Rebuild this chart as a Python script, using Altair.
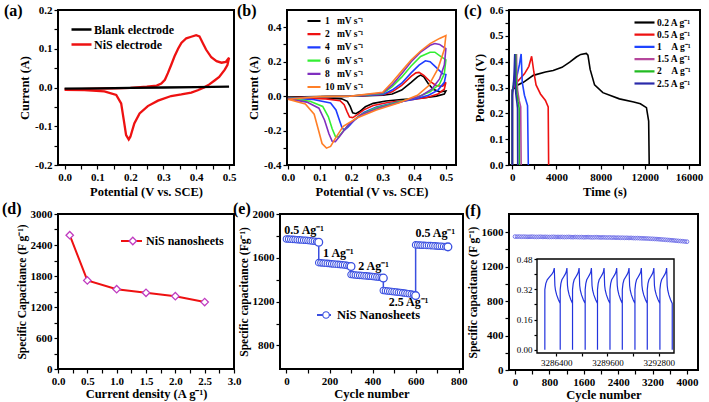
import altair as alt
import pandas as pd

FONT = "Liberation Serif"
NB = "\u00a0"

# ---------------- (a) CV: blank vs NiS electrode ----------------
a_blank_v = [0.0, 0.1, 0.2, 0.3, 0.4, 0.5]
a_blank_i = [-0.003, -0.002, -0.001, 0.0, 0.001, 0.002]
a_nis_v = [0.0, 0.05, 0.1, 0.15, 0.2, 0.25, 0.28, 0.294, 0.305, 0.314, 0.324, 0.334, 0.345, 0.355, 0.37,
           0.385, 0.40, 0.41, 0.42, 0.43, 0.446, 0.462, 0.477, 0.49, 0.5,
           0.495, 0.487, 0.47, 0.456, 0.44, 0.426, 0.405, 0.385, 0.355, 0.324, 0.284, 0.253, 0.228, 0.212,
           0.2, 0.195, 0.187, 0.18, 0.172, 0.157, 0.121, 0.06, 0.0]
a_nis_i = [-0.004, -0.004, -0.003, -0.002, -0.001, 0.002, 0.005, 0.01, 0.02, 0.037, 0.058, 0.08, 0.1, 0.115, 0.127,
           0.131, 0.135, 0.132, 0.115, 0.098, 0.078, 0.068, 0.064, 0.066, 0.077,
           0.058, 0.046, 0.027, 0.018, 0.008, 0.001, -0.007, -0.013, -0.018, -0.022, -0.034, -0.048, -0.067, -0.093,
           -0.127, -0.134, -0.123, -0.084, -0.041, -0.019, -0.01, -0.007, -0.006]
a_names = ["Blank electrode", "NiS electrode"]
a_colors = ["#000000", "#ee1111"]

# ---------------- (b) CV at scan rates ----------------
b_names = ["1" + NB * 3 + "mV s⁻¹", "2" + NB * 3 + "mV s⁻¹", "4" + NB * 3 + "mV s⁻¹",
           "6" + NB * 3 + "mV s⁻¹", "8" + NB * 3 + "mV s⁻¹", "10" + NB + "mV s⁻¹"]
b_colors = ["#000000", "#ee1111", "#1f3cff", "#33ee33", "#7f2fbf", "#ff7f27"]
b_v_1 = [0, 0.1, 0.2, 0.3, 0.33, 0.36, 0.39, 0.41, 0.42, 0.43, 0.445, 0.46, 0.48, 0.5,
         0.495, 0.47, 0.42, 0.36, 0.31, 0.27, 0.245, 0.228, 0.215, 0.205, 0.197, 0.188, 0.17, 0.12, 0.05, 0]
b_i_1 = [-0.006, -0.003, 0.0, 0.005, 0.012, 0.035, 0.08, 0.112, 0.122, 0.112, 0.07, 0.04, 0.025, 0.03,
         0.012, 0.0, -0.012, -0.02, -0.028, -0.042, -0.062, -0.088, -0.102, -0.097, -0.06, -0.03, -0.016, -0.01, -0.008, -0.006]
b_v_2 = [0, 0.1, 0.2, 0.3, 0.33, 0.36, 0.39, 0.405, 0.415, 0.43, 0.45, 0.47, 0.49, 0.5,
         0.495, 0.475, 0.44, 0.38, 0.32, 0.27, 0.24, 0.22, 0.205, 0.195, 0.187, 0.178, 0.165, 0.12, 0.05, 0]
b_i_2 = [-0.01, -0.004, 0.0, 0.008, 0.025, 0.062, 0.115, 0.135, 0.138, 0.12, 0.085, 0.06, 0.058, 0.08,
         0.04, 0.012, -0.008, -0.024, -0.036, -0.055, -0.08, -0.108, -0.125, -0.122, -0.09, -0.05, -0.027, -0.016, -0.012, -0.01]
b_v_4 = [0, 0.1, 0.2, 0.3, 0.33, 0.36, 0.39, 0.415, 0.435, 0.45, 0.47, 0.49, 0.5,
         0.495, 0.475, 0.445, 0.40, 0.34, 0.28, 0.24, 0.21, 0.19, 0.18, 0.172, 0.163, 0.152, 0.135, 0.08, 0]
b_i_4 = [-0.012, -0.004, 0.0, 0.01, 0.035, 0.075, 0.135, 0.18, 0.205, 0.2, 0.165, 0.13, 0.125,
         0.08, 0.035, 0.005, -0.018, -0.038, -0.063, -0.095, -0.14, -0.18, -0.195, -0.188, -0.14, -0.08, -0.04, -0.02, -0.012]
b_v_6 = [0, 0.1, 0.2, 0.3, 0.33, 0.36, 0.39, 0.42, 0.45, 0.465, 0.48, 0.5,
         0.495, 0.48, 0.45, 0.41, 0.35, 0.28, 0.23, 0.195, 0.172, 0.16, 0.15, 0.14, 0.128, 0.11, 0.07, 0]
b_i_6 = [-0.014, -0.004, 0.0, 0.015, 0.055, 0.11, 0.175, 0.23, 0.255, 0.255, 0.235, 0.21,
         0.13, 0.07, 0.025, -0.005, -0.035, -0.068, -0.108, -0.16, -0.21, -0.238, -0.234, -0.19, -0.12, -0.06, -0.03, -0.014]
b_v_8 = [0, 0.1, 0.2, 0.3, 0.33, 0.36, 0.39, 0.42, 0.45, 0.465, 0.48, 0.5,
         0.495, 0.48, 0.455, 0.42, 0.36, 0.29, 0.23, 0.19, 0.165, 0.15, 0.14, 0.13, 0.116, 0.098, 0.06, 0]
b_i_8 = [-0.016, -0.004, 0.0, 0.018, 0.065, 0.13, 0.2, 0.255, 0.295, 0.305, 0.3, 0.275,
         0.18, 0.1, 0.04, 0.0, -0.033, -0.067, -0.11, -0.17, -0.23, -0.265, -0.262, -0.22, -0.14, -0.07, -0.035, -0.016]
b_v_10 = [0, 0.1, 0.2, 0.3, 0.33, 0.36, 0.39, 0.42, 0.45, 0.48, 0.5,
          0.495, 0.475, 0.445, 0.41, 0.35, 0.28, 0.22, 0.175, 0.15, 0.135, 0.122, 0.108, 0.097, 0.083, 0.055, 0]
b_i_10 = [-0.018, -0.003, 0.0, 0.022, 0.08, 0.145, 0.21, 0.262, 0.305, 0.335, 0.352,
          0.27, 0.16, 0.06, 0.005, -0.04, -0.08, -0.125, -0.175, -0.245, -0.292, -0.302, -0.275, -0.2, -0.105, -0.045, -0.018]

# ---------------- (c) charge-discharge ----------------
c_names = ["0.2 A g⁻¹", "0.5 A g⁻¹", "1" + NB * 4 + "A g⁻¹", "1.5 A g⁻¹", "2" + NB * 4 + "A g⁻¹", "2.5 A g⁻¹"]
c_colors = ["#000000", "#ee1111", "#1f44ff", "#b5479c", "#22bb22", "#2a2aaa"]
c_t_02 = [0, 0, 500, 1000, 1900, 3000, 3700, 4500, 5200, 5800, 6200, 6700, 6850, 7050, 7450, 8200, 9700, 11000,
          11600, 12150, 12350, 12400]
c_u_02 = [0.0, 0.29, 0.31, 0.32, 0.347, 0.36, 0.366, 0.378, 0.398, 0.418, 0.428, 0.432, 0.425, 0.37, 0.31, 0.28,
          0.256, 0.244, 0.237, 0.222, 0.17, 0.0]
c_t_05 = [0, 0, 300, 700, 1100, 1500, 1750, 1950, 2150, 2550, 3000, 3250, 3290]
c_u_05 = [0.0, 0.29, 0.315, 0.334, 0.353, 0.382, 0.421, 0.36, 0.31, 0.275, 0.25, 0.225, 0.0]
c_t_1 = [0, 0, 200, 450, 650, 800, 830, 900, 1100, 1380, 1450]
c_u_1 = [0.0, 0.29, 0.315, 0.35, 0.39, 0.43, 0.40, 0.32, 0.27, 0.23, 0.0]
c_t_15 = [0, 0, 150, 300, 380, 410, 480, 620, 760, 800]
c_u_15 = [0.0, 0.28, 0.31, 0.36, 0.43, 0.35, 0.29, 0.25, 0.225, 0.0]
c_t_2 = [0, 0, 100, 220, 300, 330, 400, 520, 620, 640]
c_u_2 = [0.0, 0.28, 0.31, 0.36, 0.43, 0.34, 0.28, 0.245, 0.22, 0.0]
c_t_25 = [0, 0, 80, 160, 220, 250, 320, 420, 470, 490]
c_u_25 = [0.0, 0.27, 0.3, 0.35, 0.43, 0.33, 0.275, 0.24, 0.22, 0.0]

# ---------------- (d) specific capacitance vs current density ----------------
d_density = [0.2, 0.5, 1.0, 1.5, 2.0, 2.5]
d_cap = [2590, 1715, 1545, 1475, 1410, 1295]

# ---------------- (e) rate capability ----------------
e_cyc_a = [0, 10, 20, 30, 40, 50, 60, 70, 80, 90, 100, 110, 120, 130, 140, 150]
e_cap_a = [1772, 1771, 1769, 1768, 1767, 1765, 1764, 1763, 1761, 1760, 1758, 1756, 1754, 1751, 1748, 1742]
e_cyc_b = [150, 160, 170, 180, 190, 200, 210, 220, 230, 240, 250, 260, 270, 280, 290, 300]
e_cap_b = [1556, 1554, 1552, 1550, 1549, 1547, 1545, 1544, 1542, 1540, 1538, 1536, 1534, 1531, 1528, 1521]
e_cyc_c = [300, 310, 320, 330, 340, 350, 360, 370, 380, 390, 400, 410, 420, 430, 440, 450]
e_cap_c = [1447, 1445, 1443, 1441, 1440, 1438, 1436, 1435, 1433, 1431, 1429, 1427, 1425, 1423, 1420, 1415]
e_cyc_d = [450, 460, 470, 480, 490, 500, 510, 520, 530, 540, 550, 560, 570, 580, 590, 600]
e_cap_d = [1302, 1299, 1297, 1295, 1292, 1290, 1288, 1285, 1283, 1280, 1278, 1275, 1272, 1269, 1265, 1255]
e_cyc_e = [600, 610, 620, 630, 640, 650, 660, 670, 680, 690, 700, 710, 720, 730, 740, 750]
e_cap_e = [1718, 1717, 1716, 1715, 1714, 1713, 1712, 1711, 1710, 1709, 1707, 1706, 1705, 1703, 1702, 1700]
e_lab_text = ["0.5 Ag⁻¹", "1 Ag⁻¹", "2 Ag⁻¹", "2.5 Ag⁻¹", "0.5 Ag⁻¹"]
e_lab_cyc = [82, 241, 404, 567, 691]
e_lab_cap = [1856, 1646, 1523, 1198, 1825]

# ---------------- (f) cycling stability + inset ----------------
f_cycle = [0, 50, 100, 150, 200, 250, 300, 350, 400, 450, 500, 550, 600, 650, 700, 750, 800, 850, 900, 950, 1000,
           1050, 1100, 1150, 1200, 1250, 1300, 1350, 1400, 1450, 1500, 1550, 1600, 1650, 1700, 1750, 1800, 1850, 1900, 1950, 2000,
           2050, 2100, 2150, 2200, 2250, 2300, 2350, 2400, 2450, 2500, 2550, 2600, 2650, 2700, 2750, 2800, 2850, 2900, 2950, 3000,
           3050, 3100, 3150, 3200, 3250, 3300, 3350, 3400, 3450, 3500, 3550, 3600, 3650, 3700, 3750, 3800, 3850, 3900, 3950, 4000]
f_cap = [1548, 1547, 1548, 1546, 1547, 1546, 1545, 1546, 1547, 1545, 1544, 1545, 1546, 1544, 1545, 1544, 1543, 1544, 1545, 1543, 1544,
         1543, 1544, 1542, 1543, 1544, 1542, 1541, 1543, 1542, 1541, 1542, 1540, 1541, 1542, 1540, 1539, 1540, 1541, 1539, 1538,
         1539, 1538, 1537, 1538, 1536, 1537, 1535, 1536, 1534, 1535, 1533, 1534, 1532, 1533, 1531, 1530, 1531, 1529, 1528, 1527,
         1526, 1525, 1523, 1522, 1520, 1519, 1517, 1515, 1513, 1511, 1509, 1507, 1505, 1503, 1500, 1498, 1496, 1494, 1491, 1489]
ins_start = [3285690, 3286650, 3287420, 3288210, 3288980, 3289760, 3290530, 3291320, 3292090, 3292880]
ins_peak = [3286280, 3287070, 3287830, 3288600, 3289390, 3290180, 3290950, 3291720, 3292500, 3293300]
ins_end = [3286650, 3287420, 3288210, 3288980, 3289760, 3290530, 3291320, 3292090, 3292880, 3293650]
ins_charge_frac = [0.0, 0.1, 0.25, 0.5, 0.75, 0.9, 1.0]
ins_charge_u = [0.318, 0.35, 0.37, 0.385, 0.40, 0.412, 0.432]
ins_dis_frac = [0.1, 0.2, 0.4, 0.7, 1.0]
ins_dis_u = [0.34, 0.315, 0.29, 0.265, 0.245]
ins_t_range = [3285200, 3293760]
ins_u_range = [-0.017, 0.48]


# ---------------- helpers ----------------
def mk_axis(lo, hi, minor, major, fmt, title, tsize=12.5, **kw):
    n = int(round((hi - lo) / minor))
    vals = [round(lo + k * minor, 6) for k in range(n + 1)]
    expr = (f"abs(datum.value / {major} - round(datum.value / {major})) < 1e-6 "
            f"? replace(format(datum.value, '{fmt}'), '\u2212', '-') : ''")
    return alt.Axis(values=vals, labelExpr=expr, title=title, titleFontSize=tsize, **kw)


def series_df(name, xs, ys):
    assert len(xs) == len(ys), name
    return pd.DataFrame({"s": name, "x": xs, "y": ys, "k": list(range(len(xs)))})


def panel_label(txt, dx, dy):
    return alt.Chart(pd.DataFrame({"lab": [txt]})).mark_text(
        font=FONT, fontWeight="bold", fontSize=16, align="left", baseline="top", color="black"
    ).encode(text="lab:N", x=alt.value(dx), y=alt.value(dy))


LEG = dict(orient="none", title=None, labelFont=FONT, labelFontWeight="bold", labelColor="black", padding=0)

def lin(lo, hi):
    return alt.Scale(domain=[lo, hi], nice=False, zero=False)

# ---------------- panel a ----------------
a_df = pd.concat([series_df(a_names[1], a_nis_v, a_nis_i), series_df(a_names[0], a_blank_v, a_blank_i)])
pa_lines = alt.Chart(a_df).mark_line(strokeWidth=2.3).encode(
    x=alt.X("x:Q", scale=lin(-0.02, 0.515), axis=mk_axis(0, 0.5, 0.05, 0.1, ".1f", "Potential (V vs. SCE)")),
    y=alt.Y("y:Q", scale=lin(-0.2, 0.2), axis=mk_axis(-0.2, 0.2, 0.05, 0.1, ".1f", "Current (A)")),
    color=alt.Color("s:N", scale=alt.Scale(domain=a_names, range=a_colors),
                    legend=alt.Legend(legendX=12, legendY=13, symbolType="stroke", symbolSize=400,
                                      symbolStrokeWidth=2.5, labelFontSize=12, clipHeight=13, rowPadding=2,
                                      labelOffset=1, **LEG)),
    order="k:Q",
)
pa = alt.layer(pa_lines, panel_label("(a)", -54, -7)).properties(width=176, height=155)

# ---------------- panel b ----------------
b_df = pd.concat([series_df(n, v, i) for n, v, i in zip(
    b_names, [b_v_1, b_v_2, b_v_4, b_v_6, b_v_8, b_v_10], [b_i_1, b_i_2, b_i_4, b_i_6, b_i_8, b_i_10])])
pb_lines = alt.Chart(b_df).mark_line(strokeWidth=1.6).encode(
    x=alt.X("x:Q", scale=lin(-0.003, 0.532), axis=mk_axis(0, 0.5, 0.05, 0.1, ".1f", "Potential (V vs. SCE)")),
    y=alt.Y("y:Q", scale=lin(-0.4, 0.5), axis=mk_axis(-0.4, 0.4, 0.1, 0.2, ".1f", "Current (A)")),
    color=alt.Color("s:N", scale=alt.Scale(domain=b_names, range=b_colors),
                    legend=alt.Legend(legendX=19, legendY=5, symbolType="stroke", symbolSize=169,
                                      symbolStrokeWidth=2.2, labelFontSize=9.5, clipHeight=12, rowPadding=1.2,
                                      labelOffset=3, **LEG)),
    order="k:Q",
)
pb = alt.layer(pb_lines, panel_label("(b)", -50, -7)).properties(width=169, height=155)

# ---------------- panel c ----------------
c_df = pd.concat([series_df(n, t, u) for n, t, u in zip(
    c_names, [c_t_02, c_t_05, c_t_1, c_t_15, c_t_2, c_t_25], [c_u_02, c_u_05, c_u_1, c_u_15, c_u_2, c_u_25])])
pc_lines = alt.Chart(c_df).mark_line(strokeWidth=1.6).encode(
    x=alt.X("x:Q", scale=lin(-300, 17000), axis=mk_axis(0, 16000, 2000, 4000, "d", "Time (s)")),
    y=alt.Y("y:Q", scale=lin(0, 0.6), axis=mk_axis(0, 0.6, 0.05, 0.1, ".1f", "Potential (V)")),
    color=alt.Color("s:N", scale=alt.Scale(domain=c_names, range=c_colors),
                    legend=alt.Legend(legendX=124, legendY=7, symbolType="stroke", symbolSize=400,
                                      symbolStrokeWidth=2.2, labelFontSize=9.5, clipHeight=11, rowPadding=1.2,
                                      labelOffset=1, **LEG)),
    order="k:Q",
)
pc = alt.layer(pc_lines, panel_label("(c)", -45, -7)).properties(width=191, height=155)

# ---------------- panel d ----------------
D_NAME = "NiS nanosheets"
D_MARK = "#c03cc0"
d_df = pd.DataFrame({"j": d_density, "c": d_cap, "s": D_NAME, "s2": D_NAME + NB})
d_x = alt.X("j:Q", scale=lin(0, 3), axis=mk_axis(0, 3, 0.25, 0.5, ".1f", "Current density (A g⁻¹)", titlePadding=1))
d_y = alt.Y("c:Q", scale=lin(0, 3000),
            axis=mk_axis(0, 3000, 300, 600, "d", "Specific Capacitance (F g⁻¹)", tsize=11.5))
pd_line = alt.Chart(d_df).mark_line(strokeWidth=2).encode(
    x=d_x, y=d_y,
    color=alt.Color("s:N", scale=alt.Scale(domain=[D_NAME], range=["#ee1111"]),
                    legend=alt.Legend(legendX=62, legendY=19, symbolType="stroke", symbolSize=441,
                                      symbolStrokeWidth=2, labelFontSize=12, clipHeight=16, labelOffset=3, **LEG)),
)
pd_pts = alt.Chart(d_df).mark_point(shape="diamond", size=55, filled=False, fill="white", strokeWidth=1.3,
                                    opacity=1).encode(
    x=d_x, y=d_y,
    stroke=alt.Stroke("s2:N", scale=alt.Scale(domain=[D_NAME + NB], range=[D_MARK]),
                      legend=alt.Legend(legendX=68.8, legendY=19, symbolType="diamond", symbolSize=55,
                                        symbolFillColor="white", symbolStrokeWidth=1.3, labelFontSize=12,
                                        clipHeight=16, labelExpr="''", **LEG)),
)
pdd = alt.layer(pd_line, pd_pts, panel_label("(d)", -56, -13)).properties(width=176, height=155)

# ---------------- panel e ----------------
E_NAME = "NiS Nanosheets"
e_parts = []
for cyc, cap in [(e_cyc_a, e_cap_a), (e_cyc_b, e_cap_b), (e_cyc_c, e_cap_c), (e_cyc_d, e_cap_d), (e_cyc_e, e_cap_e)]:
    assert len(cyc) == len(cap)
    e_parts.append(pd.DataFrame({"n": cyc, "c": cap, "end": [False] * (len(cyc) - 1) + [True]}))
e_df = pd.concat(e_parts, ignore_index=True)
e_df["k"] = list(range(len(e_df)))
e_df["s"] = E_NAME
e_df["s2"] = E_NAME + NB
e_x = alt.X("n:Q", scale=lin(-30, 820), axis=mk_axis(0, 800, 100, 200, "d", "Cycle number", titlePadding=1))
e_y = alt.Y("c:Q", scale=lin(585, 2000),
            axis=mk_axis(800, 2000, 200, 400, "d", "Specific capacitance (Fg⁻¹)", tsize=11.5))
E_BLUE = "#3a4fe0"
pe_line = alt.Chart(e_df).mark_line(strokeWidth=1.5).encode(
    x=e_x, y=e_y, order="k:Q",
    color=alt.Color("s:N", scale=alt.Scale(domain=[E_NAME], range=[E_BLUE]),
                    legend=alt.Legend(legendX=36, legendY=93, symbolType="stroke", symbolSize=196,
                                      symbolStrokeWidth=2, labelFontSize=12.5, clipHeight=16, labelOffset=5, **LEG)),
)
pe_pts = alt.Chart(e_df).mark_point(shape="circle", size=42, filled=False, fill="white", strokeWidth=1.1,
                                    opacity=1).encode(
    x=e_x, y=e_y,
    stroke=alt.Stroke("s2:N", scale=alt.Scale(domain=[E_NAME + NB], range=[E_BLUE]),
                      legend=alt.Legend(legendX=39.8, legendY=93, symbolType="circle", symbolSize=42,
                                        symbolFillColor="white", symbolStrokeWidth=1.1, labelFontSize=12.5,
                                        clipHeight=16, labelExpr="''", **LEG)),
)
pe_end = alt.Chart(e_df).transform_filter("datum.end").mark_point(
    size=60, filled=False, color=E_BLUE, fill="white", strokeWidth=1.3, opacity=1).encode(x=e_x, y=e_y)
e_lab_df = pd.DataFrame({"n": e_lab_cyc, "c": e_lab_cap, "t": e_lab_text})
pe_txt = alt.Chart(e_lab_df).mark_text(font=FONT, fontWeight="bold", fontSize=12, color="black").encode(
    x=e_x, y=e_y, text="t:N")
pe = alt.layer(pe_line, pe_pts, pe_end, pe_txt, panel_label("(e)", -47, -13)).properties(width=183, height=155)

# ---------------- panel f ----------------
assert len(f_cycle) == len(f_cap)
f_df = pd.DataFrame({"n": f_cycle, "c": f_cap})
pf_pts = alt.Chart(f_df).mark_point(shape="circle", size=14, filled=False, color="#6b6be6", strokeWidth=0.9,
                                    opacity=1).encode(
    x=alt.X("n:Q", scale=lin(-140, 4256),
            axis=mk_axis(0, 4000, 400, 800, "d", "Cycle number", orient="bottom", titlePadding=1)),
    y=alt.Y("c:Q", scale=lin(0, 1810),
            axis=mk_axis(0, 1600, 200, 400, "d", "Specific capacitance (F g⁻¹)", tsize=11.5, orient="left")),
)

ins_t, ins_u = [], []
for s0, pk, e0 in zip(ins_start, ins_peak, ins_end):
    ins_t.append(s0)
    ins_u.append(0.0)
    for fr, u in zip(ins_charge_frac, ins_charge_u):
        ins_t.append(s0 + fr * (pk - s0))
        ins_u.append(u)
    for fr, u in zip(ins_dis_frac, ins_dis_u):
        ins_t.append(pk + fr * (e0 - pk))
        ins_u.append(u)
    ins_t.append(e0)
    ins_u.append(0.0)
ins_df = pd.DataFrame({"t": ins_t, "u": ins_u, "k": list(range(len(ins_t)))})

INS_AX = dict(labelFontSize=9, labelFontWeight="normal", tickSize=3)
ins_xs = alt.Scale(domain=ins_t_range, range=[28, 165], nice=False, zero=False)
ins_ys = alt.Scale(domain=ins_u_range, range=[139, 45], nice=False, zero=False)
ins_xa = mk_axis(3286400, 3292800, 1600, 3200, "d", None, orient="bottom", offset=-17, **INS_AX)
ins_ya = mk_axis(0, 0.48, 0.08, 0.16, ".2f", None, orient="left", offset=-28, **INS_AX)
frame_df = pd.DataFrame({"t0": [ins_t_range[0]], "t1": [ins_t_range[1]], "u0": [ins_u_range[0]], "u1": [ins_u_range[1]]})
ins_frame = alt.Chart(frame_df).mark_rect(fill="white", stroke="black", strokeWidth=1.4).encode(
    x=alt.X("t0:Q", scale=ins_xs, axis=ins_xa), x2="t1:Q",
    y=alt.Y("u0:Q", scale=ins_ys, axis=ins_ya), y2="u1:Q")
ins_line = alt.Chart(ins_df).mark_line(color="#2233dd", strokeWidth=1.2).encode(
    x=alt.X("t:Q", scale=ins_xs, axis=ins_xa),
    y=alt.Y("u:Q", scale=ins_ys, axis=ins_ya),
    order="k:Q")
inset = alt.layer(ins_frame, ins_line)
pf = alt.layer(pf_pts, inset, panel_label("(f)", -44, -11)).resolve_scale(
    x="independent", y="independent").properties(width=189, height=156)

# ---------------- layout ----------------
RES = dict(color="independent", shape="independent", stroke="independent")
row1 = alt.hconcat(pa, pb, pc, spacing=53, bounds="flush").resolve_scale(**RES)
row2 = alt.hconcat(pdd, pe, pf, spacing=46, bounds="flush").resolve_scale(**RES)
chart = alt.vconcat(row1, row2, spacing=1).resolve_scale(**RES).properties(
    padding={"left": 1, "top": 2, "right": 0, "bottom": 0}
).configure(
    font=FONT,
    style={"guide-label": {"font": FONT, "fontWeight": "bold", "fill": "black"}},
).configure_view(
    stroke="black", strokeWidth=2
).configure_axis(
    labelFont=FONT, labelFontSize=11, labelFontWeight="bold", labelColor="black",
    titleFont=FONT, titleFontWeight="bold", titleColor="black",
    tickColor="black", tickWidth=1.2, tickSize=4, domain=False, grid=False,
    labelOverlap=False, labelFlush=False, labelPadding=2, titlePadding=3
).configure_legend(
    labelFont=FONT, labelFontWeight="bold", labelColor="black"
)

chart.save("out.html", embed_options={"renderer": "svg", "actions": False})
